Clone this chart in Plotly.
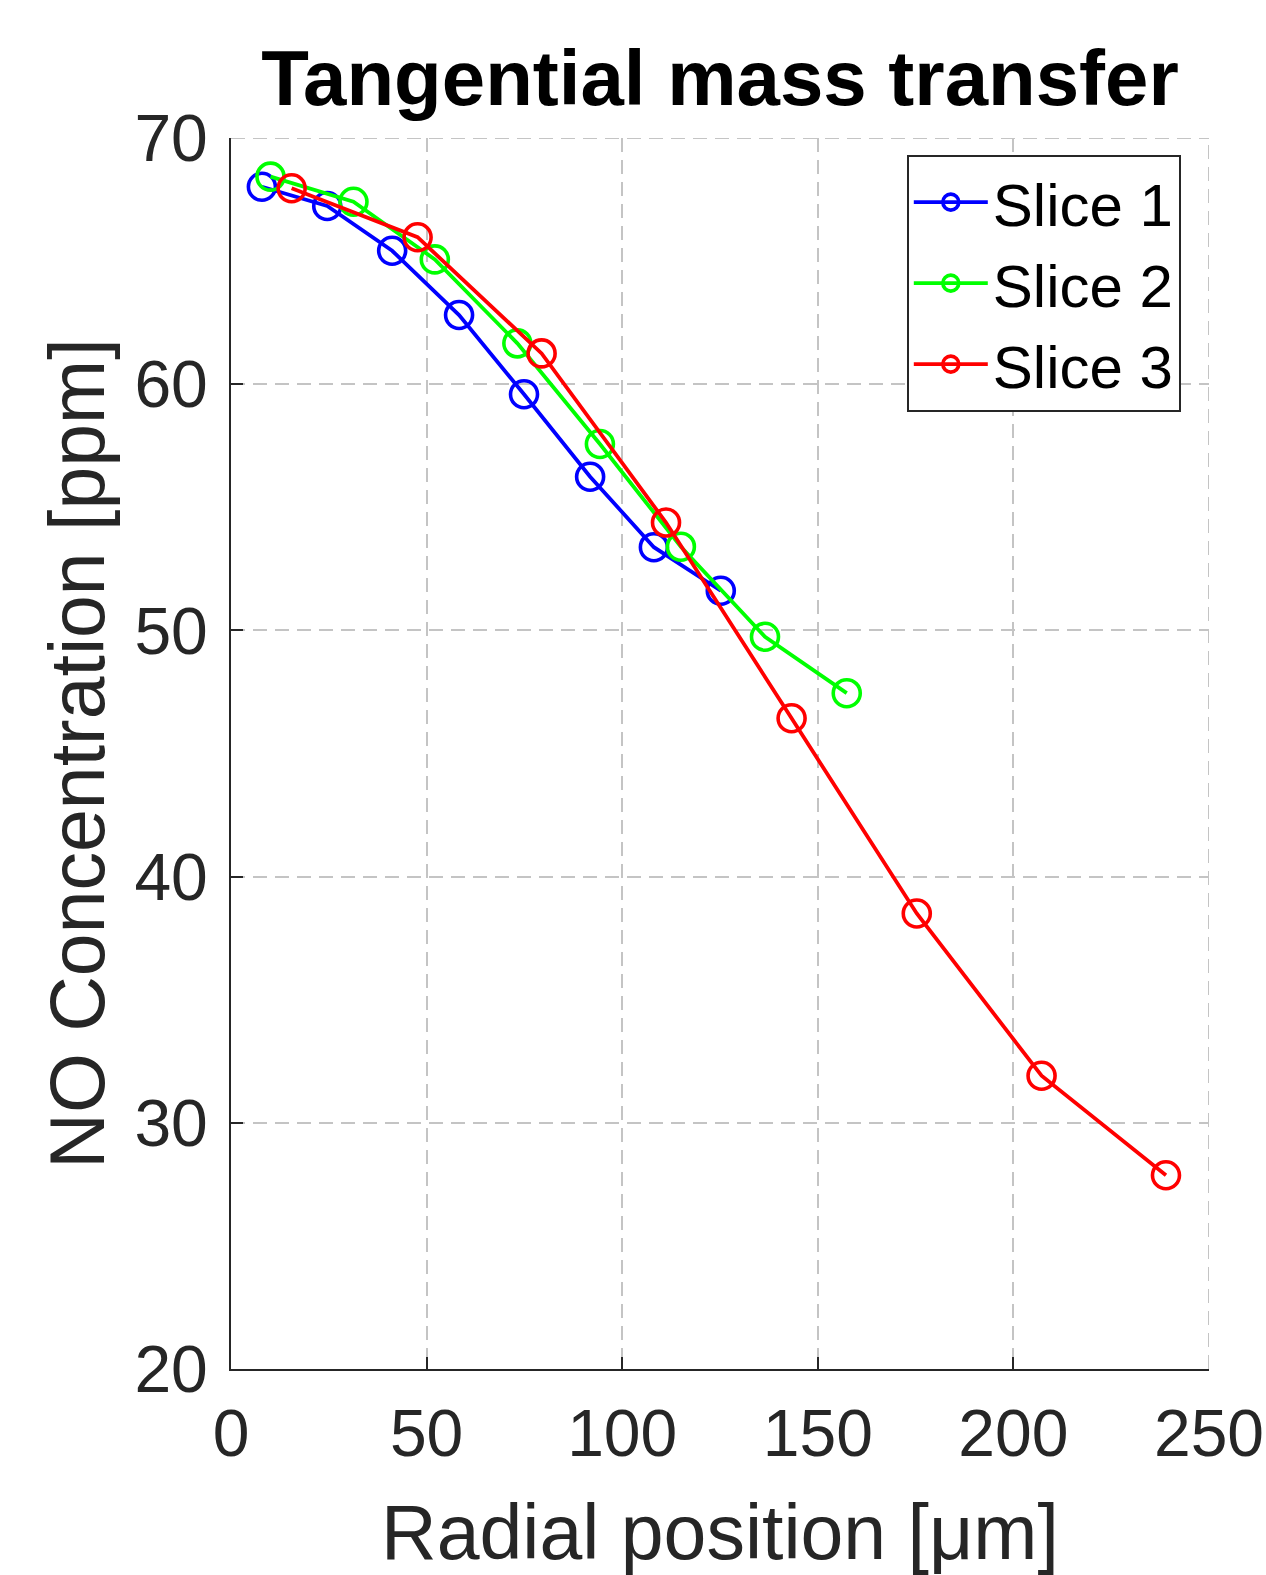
import plotly.graph_objects as go

# Data
slice1_x = [7.9, 24.6, 41.2, 58.3, 74.9, 91.8, 108.1, 125.2]
slice1_y = [68.02, 67.24, 65.42, 62.81, 59.59, 56.24, 53.38, 51.61]
slice2_x = [10.1, 31.3, 52.1, 73.2, 94.3, 115.0, 136.5, 157.4]
slice2_y = [68.43, 67.41, 65.07, 61.66, 57.57, 53.40, 49.74, 47.45]
slice3_x = [15.5, 47.7, 79.4, 111.2, 143.3, 175.3, 207.2, 239.0]
slice3_y = [67.96, 65.97, 61.25, 54.38, 46.43, 38.50, 31.91, 27.87]

series_names = ["Slice 1", "Slice 2", "Slice 3"]
series_colors = ["#0000ff", "#00ff00", "#ff0000"]

x_ticks = [0, 50, 100, 150, 200, 250]
y_ticks = [20, 30, 40, 50, 60, 70]
x_range = [0, 250]
y_range = [20, 70]

FONT = "Liberation Sans, Arial, Helvetica, sans-serif"
AX = "#262626"
GRID = "#c4c4c4"
DASH = "14px,8px"

fig = go.Figure()
for name, xs, ys, col in zip(series_names,
                              [slice1_x, slice2_x, slice3_x],
                              [slice1_y, slice2_y, slice3_y],
                              series_colors):
    fig.add_trace(go.Scatter(
        x=xs, y=ys, name=name, mode="lines+markers",
        line=dict(color=col, width=3.8),
        marker=dict(symbol="circle-open", size=27, color=col,
                    line=dict(color=col, width=3.6)),
    ))

# grid lines at the range ends (top and right), which plotly omits
fig.add_shape(type="line", xref="paper", yref="y", x0=0, x1=1,
              y0=y_range[1], y1=y_range[1], layer="below",
              line=dict(color=GRID, width=2, dash=DASH))
fig.add_shape(type="line", xref="x", yref="paper", x0=x_range[1], x1=x_range[1],
              y0=0, y1=1, layer="below",
              line=dict(color=GRID, width=2, dash=DASH))

fig.update_layout(
    width=1266, height=1575,
    margin=dict(l=231, r=57, t=138, b=206),
    paper_bgcolor="white", plot_bgcolor="white",
    font=dict(family=FONT, color=AX),
    title=dict(text="<b>Tangential mass transfer</b>",
               font=dict(family=FONT, size=78, color="black"),
               x=0.5, xref="paper", xanchor="center",
               y=1 - 78 / 1575, yref="container", yanchor="middle"),
    showlegend=True,
    legend=dict(x=0.691, y=0.9865, xanchor="left", yanchor="top",
                bgcolor="white", bordercolor=AX, borderwidth=2,
                font=dict(family=FONT, size=60, color="black"),
                itemwidth=74, tracegroupgap=0),
)

fig.update_xaxes(
    range=x_range, tickvals=x_ticks, ticktext=[str(v) for v in x_ticks],
    showline=True, linecolor=AX, linewidth=2, mirror=False,
    ticks="inside", ticklen=12, tickwidth=2, tickcolor=AX,
    tickfont=dict(family=FONT, size=66, color=AX), ticklabelstandoff=6,
    showgrid=True, gridcolor=GRID, gridwidth=2, griddash=DASH,
    zeroline=False, automargin=False,
    title=dict(text="Radial position [μm]", font=dict(family=FONT, size=77, color=AX), standoff=40),
)
fig.update_yaxes(
    range=y_range, tickvals=y_ticks, ticktext=[str(v) for v in y_ticks],
    showline=True, linecolor=AX, linewidth=2, mirror=False,
    ticks="inside", ticklen=12, tickwidth=2, tickcolor=AX,
    tickfont=dict(family=FONT, size=66, color=AX), ticklabelstandoff=8,
    showgrid=True, gridcolor=GRID, gridwidth=2, griddash=DASH,
    zeroline=False, automargin=False,
    title=dict(text="NO Concentration [ppm]", font=dict(family=FONT, size=77, color=AX), standoff=4),
)

fig.write_html("out.html")
